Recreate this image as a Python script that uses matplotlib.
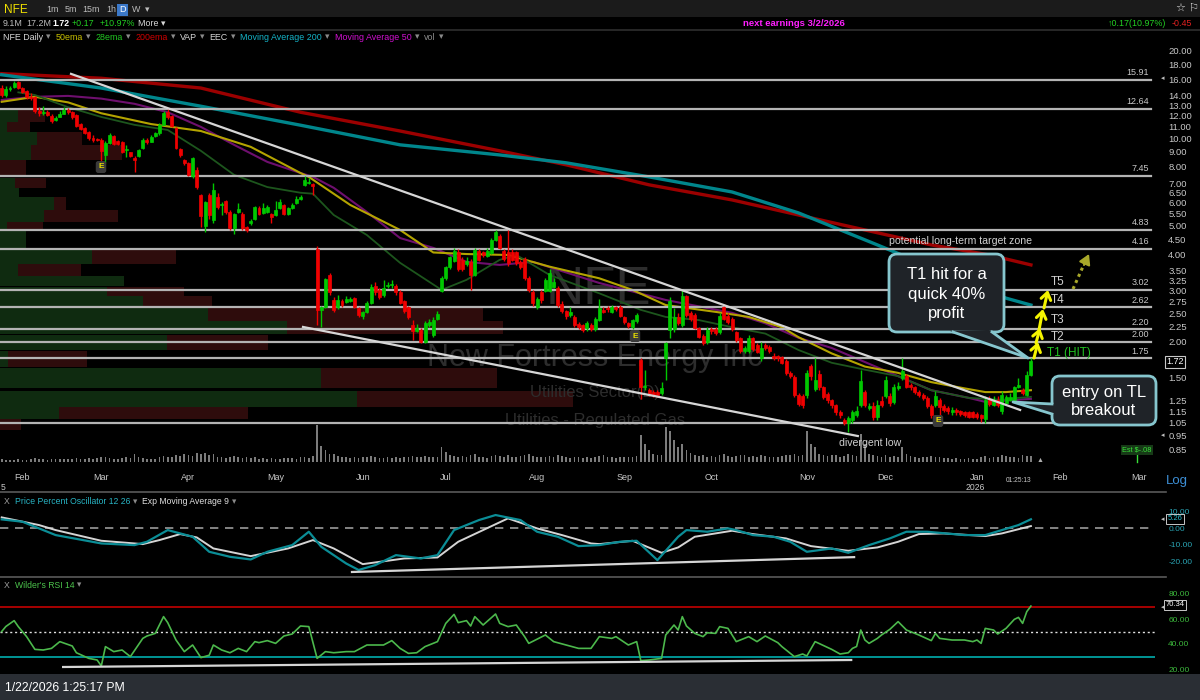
import numpy as np
import pandas as pd
import matplotlib
matplotlib.use("Agg")
import matplotlib.pyplot as plt
from matplotlib.patches import FancyBboxPatch, Polygon, Rectangle

plt.rcParams["font.family"] = ["Liberation Sans", "DejaVu Sans"]

# ---------------- daily candles (NFE) ----------------
opens = [14.90, 14.11, 14.80, 15.00, 15.65, 14.90, 14.55, 13.90, 13.85, 12.40,
         12.20, 12.30, 11.95, 11.55, 11.85, 12.15, 12.55, 12.30, 12.05, 11.20,
         10.85, 10.50, 10.05, 9.95, 9.85, 8.80, 9.65, 10.20, 9.80, 9.75,
         9.15, 8.95, 8.55, 8.70, 9.25, 9.90, 9.75, 10.15, 10.40, 11.15,
         12.30, 11.95, 10.85, 9.20, 8.45, 8.20, 7.40, 7.80, 6.40, 4.98,
         6.40, 5.25, 6.30, 5.88, 6.10, 5.60, 4.90, 5.60, 5.50, 4.95,
         5.13, 5.30, 5.75, 5.55, 5.60, 5.50, 5.45, 5.75, 5.90, 5.50,
         5.75, 6.00, 6.20, 6.90, 7.00, 6.95, 4.16, 2.57, 2.62, 3.39,
         2.78, 2.62, 2.76, 2.74, 2.76, 2.82, 2.60, 2.45, 2.53, 2.72,
         3.10, 3.01, 2.89, 3.10, 3.12, 3.10, 2.96, 2.75, 2.62, 2.28,
         2.18, 2.19, 2.00, 2.28, 2.10, 2.39, 2.98, 3.30, 3.60, 3.80,
         4.05, 3.82, 3.70, 3.75, 3.40, 4.10, 4.05, 3.95, 4.03, 4.47,
         4.60, 4.10, 4.07, 4.07, 4.05, 3.75, 3.85, 3.30, 2.95, 2.62,
         2.95, 2.98, 2.98, 3.08, 3.05, 2.70, 2.55, 2.47, 2.43, 2.30,
         2.28, 2.22, 2.28, 2.20, 2.37, 2.57, 2.60, 2.52, 2.62, 2.63,
         2.43, 2.31, 2.24, 2.35, 1.73, 1.39, 1.36, 1.34, 1.34, 1.33,
         1.75, 2.19, 2.20, 2.43, 2.28, 2.86, 2.50, 2.47, 2.22, 2.09,
         1.99, 2.20, 2.20, 2.15, 2.62, 2.45, 2.40, 2.15, 2.05, 1.85,
         1.85, 2.05, 1.95, 1.75, 1.95, 1.92, 1.79, 1.78, 1.77, 1.72,
         1.56, 1.51, 1.31, 1.30, 1.31, 1.65, 1.37, 1.55, 1.39, 1.32,
         1.26, 1.21, 1.14, 1.07, 1.05, 1.07, 1.12, 1.21, 1.34, 1.18,
         1.20, 1.10, 1.25, 1.30, 1.30, 1.24, 1.38, 1.50, 1.52, 1.42,
         1.39, 1.34, 1.31, 1.28, 1.20, 1.21, 1.26, 1.20, 1.18, 1.14,
         1.16, 1.15, 1.14, 1.14, 1.14, 1.13, 1.12, 1.08, 1.26, 1.21,
         1.26, 1.15, 1.23, 1.26, 1.26, 1.39, 1.36, 1.31, 1.54]
highs = [15.30, 15.10, 15.20, 15.70, 15.80, 15.00, 14.70, 14.30, 14.00, 12.85,
         12.90, 12.50, 12.10, 11.90, 12.40, 12.80, 12.70, 12.40, 12.15, 11.30,
         10.95, 10.60, 10.30, 10.05, 10.00, 9.80, 10.45, 10.30, 9.90, 9.80,
         9.50, 9.00, 8.70, 9.20, 10.00, 10.05, 10.30, 10.50, 11.30, 12.40,
         12.60, 12.00, 10.90, 9.25, 8.50, 8.30, 8.60, 8.00, 6.45, 6.10,
         6.50, 7.00, 6.50, 6.05, 6.15, 5.65, 5.55, 6.00, 5.60, 5.00,
         5.30, 5.85, 5.85, 6.00, 5.90, 5.55, 6.10, 6.20, 5.95, 5.80,
         6.00, 6.35, 6.40, 7.40, 7.30, 7.00, 4.25, 2.66, 3.30, 3.45,
         2.85, 2.90, 2.80, 2.87, 2.84, 2.85, 2.62, 2.55, 2.75, 3.15,
         3.20, 3.05, 3.25, 3.20, 3.25, 3.15, 3.00, 2.78, 2.65, 2.37,
         2.30, 2.22, 2.35, 2.40, 2.42, 2.55, 3.35, 3.65, 3.95, 4.20,
         4.15, 3.90, 3.90, 3.85, 4.20, 4.15, 4.10, 4.20, 4.55, 4.84,
         4.70, 4.15, 4.84, 4.15, 4.10, 3.82, 3.90, 3.35, 3.00, 2.85,
         3.00, 3.30, 3.55, 3.30, 3.10, 2.75, 2.57, 2.62, 2.47, 2.33,
         2.30, 2.35, 2.31, 2.42, 2.80, 2.62, 2.65, 2.68, 2.65, 2.67,
         2.45, 2.33, 2.40, 2.50, 1.75, 1.60, 1.38, 1.36, 1.36, 1.45,
         2.00, 2.85, 2.60, 2.50, 3.01, 2.90, 2.55, 2.50, 2.25, 2.12,
         2.25, 2.25, 2.25, 2.50, 2.65, 2.50, 2.42, 2.17, 2.07, 1.93,
         2.10, 2.08, 1.97, 2.00, 1.98, 1.95, 1.82, 1.80, 1.79, 1.74,
         1.58, 1.53, 1.33, 1.32, 1.60, 1.68, 1.75, 1.60, 1.41, 1.34,
         1.27, 1.22, 1.16, 1.09, 1.11, 1.16, 1.20, 1.60, 1.36, 1.23,
         1.24, 1.26, 1.30, 1.52, 1.33, 1.43, 1.45, 1.75, 1.55, 1.44,
         1.41, 1.36, 1.33, 1.30, 1.22, 1.35, 1.28, 1.22, 1.20, 1.19,
         1.18, 1.16, 1.15, 1.15, 1.15, 1.14, 1.13, 1.30, 1.30, 1.30,
         1.30, 1.35, 1.31, 1.33, 1.41, 1.50, 1.38, 1.58, 1.76]
lows = [13.90, 13.90, 14.60, 14.90, 14.80, 14.30, 13.70, 13.50, 12.20, 11.95,
        12.00, 11.90, 11.30, 11.45, 11.80, 12.10, 12.15, 11.70, 10.95, 10.70,
        10.35, 9.90, 9.75, 9.80, 8.35, 8.20, 9.60, 9.50, 9.50, 8.90,
        8.60, 8.60, 7.65, 8.60, 9.20, 9.60, 9.70, 10.10, 10.30, 11.10,
        11.70, 10.90, 9.20, 8.60, 8.10, 7.40, 7.30, 6.70, 4.95, 4.75,
        5.30, 5.10, 5.70, 5.45, 5.50, 4.85, 4.70, 5.55, 4.85, 4.75,
        5.05, 5.25, 5.45, 5.50, 5.55, 5.10, 5.40, 5.70, 5.45, 5.45,
        5.70, 5.95, 6.15, 6.85, 6.95, 6.40, 2.28, 2.25, 2.60, 2.90,
        2.52, 2.58, 2.63, 2.72, 2.73, 2.60, 2.42, 2.40, 2.50, 2.70,
        2.90, 2.80, 2.85, 3.05, 3.05, 2.90, 2.70, 2.50, 2.40, 2.03,
        2.15, 1.97, 1.97, 2.25, 2.08, 2.37, 2.95, 3.25, 3.55, 3.75,
        3.50, 3.50, 3.65, 3.02, 3.35, 3.78, 3.90, 3.90, 4.00, 4.42,
        4.15, 3.80, 3.65, 3.78, 3.68, 3.55, 3.25, 2.95, 2.65, 2.58,
        2.72, 2.95, 2.95, 3.05, 2.63, 2.50, 2.40, 2.43, 2.25, 2.20,
        2.15, 2.18, 2.17, 2.17, 2.35, 2.50, 2.53, 2.50, 2.55, 2.43,
        2.30, 2.23, 2.20, 2.32, 1.27, 1.36, 1.30, 1.29, 1.29, 1.31,
        1.48, 2.05, 2.15, 2.28, 2.25, 2.43, 2.35, 2.20, 2.05, 1.95,
        1.96, 2.13, 2.10, 2.12, 2.37, 2.30, 2.17, 2.00, 1.82, 1.82,
        1.83, 1.85, 1.82, 1.72, 1.87, 1.82, 1.73, 1.72, 1.67, 1.54,
        1.50, 1.29, 1.20, 1.18, 1.28, 1.48, 1.35, 1.36, 1.27, 1.23,
        1.18, 1.12, 1.09, 1.03, 0.98, 1.05, 1.10, 1.19, 1.19, 1.16,
        1.07, 1.07, 1.19, 1.28, 1.20, 1.22, 1.36, 1.47, 1.38, 1.36,
        1.32, 1.29, 1.26, 1.18, 1.09, 1.19, 1.10, 1.14, 1.13, 1.12,
        1.12, 1.11, 1.10, 1.09, 1.09, 1.08, 1.06, 1.05, 1.20, 1.20,
        1.19, 1.13, 1.21, 1.25, 1.25, 1.38, 1.31, 1.30, 1.52]
closes = [14.11, 14.80, 14.95, 15.50, 14.90, 14.45, 13.90, 13.80, 12.40, 12.20,
          12.35, 12.00, 11.50, 11.75, 12.15, 12.55, 12.30, 11.85, 11.05, 10.80,
          10.45, 10.00, 9.85, 9.88, 9.05, 9.65, 10.30, 9.60, 9.60, 8.98,
          9.22, 8.70, 8.45, 9.13, 9.90, 9.75, 10.10, 10.40, 11.15, 12.20,
          11.80, 11.00, 9.30, 8.80, 8.25, 7.50, 8.55, 6.80, 5.40, 6.05,
          5.45, 6.65, 5.80, 5.95, 5.60, 4.90, 5.50, 5.70, 4.90, 4.85,
          5.20, 5.80, 5.50, 5.75, 5.80, 5.35, 5.65, 6.05, 5.50, 5.75,
          5.90, 6.20, 6.30, 7.20, 7.05, 6.85, 2.57, 2.63, 3.28, 2.96,
          2.57, 2.78, 2.67, 2.80, 2.80, 2.62, 2.47, 2.52, 2.72, 3.08,
          2.95, 2.85, 3.05, 3.13, 3.16, 2.95, 2.72, 2.55, 2.43, 2.17,
          2.22, 2.00, 2.31, 2.33, 2.37, 2.49, 3.30, 3.60, 3.90, 4.10,
          3.55, 3.55, 3.80, 3.40, 4.13, 3.82, 3.97, 4.10, 4.47, 4.75,
          4.20, 3.85, 3.73, 3.82, 3.73, 3.62, 3.30, 3.01, 2.72, 2.80,
          2.78, 3.26, 3.45, 3.20, 2.67, 2.55, 2.45, 2.53, 2.28, 2.24,
          2.19, 2.31, 2.20, 2.39, 2.61, 2.52, 2.58, 2.63, 2.59, 2.45,
          2.33, 2.27, 2.37, 2.47, 1.39, 1.41, 1.32, 1.31, 1.31, 1.38,
          1.98, 2.75, 2.43, 2.31, 2.86, 2.47, 2.40, 2.22, 2.08, 1.98,
          2.19, 2.17, 2.14, 2.45, 2.40, 2.33, 2.20, 2.03, 1.85, 1.90,
          2.06, 1.88, 1.84, 1.90, 1.90, 1.85, 1.75, 1.75, 1.69, 1.56,
          1.52, 1.31, 1.22, 1.21, 1.56, 1.52, 1.48, 1.39, 1.29, 1.26,
          1.21, 1.14, 1.12, 1.05, 1.09, 1.14, 1.15, 1.46, 1.21, 1.20,
          1.10, 1.21, 1.21, 1.48, 1.23, 1.40, 1.41, 1.58, 1.40, 1.39,
          1.34, 1.31, 1.28, 1.20, 1.12, 1.30, 1.19, 1.16, 1.15, 1.16,
          1.14, 1.13, 1.12, 1.10, 1.10, 1.10, 1.09, 1.26, 1.22, 1.26,
          1.21, 1.31, 1.29, 1.29, 1.39, 1.42, 1.33, 1.54, 1.72]
# volume, millions of shares
volumes = [4, 3.5, 3, 3.5, 4, 3, 3.5, 4, 6, 5,
           4, 3.5, 4, 5, 4, 4.5, 4, 4, 6, 5,
           5, 6, 5, 6.5, 8, 7, 6, 5, 5, 6,
           8, 6, 12, 7, 6, 5, 5, 5, 7, 9,
           8, 7, 10, 9, 12, 10, 9, 14, 12, 13,
           11, 12, 8, 7, 6, 8, 9, 7, 6, 7,
           6, 7, 5, 6, 5, 6, 5, 5, 6, 6,
           6, 5, 7, 8, 6, 9, 55, 24, 18, 12,
           12, 9, 8, 7, 6, 7, 6, 7, 8, 9,
           7, 6, 6, 8, 6, 7, 6, 7, 8, 9,
           7, 8, 9, 8, 7, 7, 22, 15, 10, 9,
           8, 9, 7, 10, 12, 8, 7, 6, 9, 11,
           9, 8, 10, 7, 8, 9, 10, 12, 9, 8,
           8, 7, 9, 8, 10, 9, 8, 6, 7, 8,
           6, 7, 6, 7, 9, 10, 8, 7, 6, 7,
           8, 7, 8, 9, 40, 27, 18, 12, 10, 11,
           52, 47, 33, 22, 27, 18, 13, 10, 9, 10,
           8, 9, 8, 10, 12, 9, 8, 9, 11, 10,
           8, 9, 8, 10, 9, 8, 7, 8, 9, 11,
           10, 12, 9, 10, 46, 27, 22, 12, 10, 9,
           11, 10, 8, 9, 12, 10, 9, 42, 27, 12,
           10, 9, 8, 11, 8, 9, 7, 22, 12, 9,
           7, 6, 7, 8, 9, 7, 8, 6, 6, 5,
           6, 5, 5, 6, 5, 5, 7, 9, 6, 7,
           8, 10, 9, 8, 7, 6, 10, 9, 9]

# NYSE holidays inside the window (trading-day axis)
holidays = ["2025-02-17", "2025-04-18", "2025-05-26", "2025-06-19", "2025-07-04",
            "2025-09-01", "2025-11-27", "2025-12-25", "2026-01-01", "2026-01-19",
            "2026-02-16"]

# moving averages sampled along the chart (bar index, value)
ema200_x = [0, 24, 48, 72, 96, 120, 136, 156, 176, 192, 224, 238, 248]
ema200_y = [16.7, 16.1, 14.9, 12.3, 10.6, 9.06, 8.11, 6.92, 6.14, 5.45, 4.30, 3.97, 3.67]
ma200_x = [0, 24, 48, 72, 96, 120, 136, 156, 176, 192, 211, 242, 248]
ma200_y = [16.55, 14.9, 12.9, 11.1, 9.5, 8.77, 8.24, 7.37, 6.54, 5.54, 4.30, 2.82, 2.67]
ema50_x = [0, 8, 16, 24, 36, 48, 60, 72, 74, 84, 96, 104, 112, 122, 132, 144, 152,
           160, 172, 180, 188, 192, 200, 208, 216, 224, 232, 237, 242, 248]
ema50_y = [13.36, 13.9, 13.3, 12.2, 11.2, 10.6, 9.35, 7.6, 7.37, 5.9, 4.84, 4.05, 4.0,
           3.97, 3.62, 3.3, 3.01, 2.67, 2.53, 2.43, 2.24, 2.07, 1.82, 1.64, 1.56, 1.45,
           1.38, 1.34, 1.34, 1.36]
ema28_x = [4, 8, 16, 24, 32, 40, 48, 56, 64, 72, 75, 80, 88, 96, 106, 112, 120, 124,
           132, 144, 154, 160, 168, 176, 184, 192, 200, 208, 216, 224, 233, 241, 245, 248]
ema28_y = [14.4, 14.1, 12.8, 11.85, 11.13, 10.69, 9.06, 7.49, 6.8, 6.5, 6.45, 5.45, 4.65,
           3.73, 3.01, 3.26, 3.82, 3.97, 3.39, 2.93, 2.57, 2.43, 2.37, 2.24, 2.13, 1.87,
           1.69, 1.6, 1.52, 1.36, 1.28, 1.26, 1.28, 1.29]
ma50_x = [0, 8, 16, 24, 32, 40, 48, 56, 64, 72, 75, 80, 88, 96, 104, 112, 120, 128, 144,
          160, 176, 184, 192, 200, 208, 216, 224, 233, 237, 248]
ma50_y = [13.56, 13.9, 14.0, 13.7, 13.15, 12.3, 10.95, 9.5, 8.3, 7.6, 7.37, 6.76, 5.58,
          4.54, 4.2, 3.76, 3.67, 3.76, 3.18, 2.78, 2.51, 2.31, 2.06, 1.9, 1.7, 1.52, 1.36,
          1.28, 1.24, 1.27]

# horizontal price levels / targets
levels = [15.91, 12.64, 7.45, 4.83, 4.16, 3.02, 2.62, 2.20, 2.00, 1.75]
support_level = 1.05

# volume at price rows: price band, up volume, down volume (relative)
vap_lo = [11.4, 10.5, 9.5, 8.43, 7.43, 6.76, 6.27, 5.67, 5.16, 4.84, 4.2, 3.7, 3.36,
          3.1, 2.86, 2.63, 2.35, 2.12, 1.87, 1.63, 1.38, 1.19, 1.08, 0.99]
vap_hi = [12.53, 11.35, 10.5, 9.5, 8.43, 7.3, 6.76, 6.27, 5.67, 5.16, 4.84, 4.17, 3.7,
          3.36, 3.07, 2.86, 2.6, 2.35, 2.1, 1.86, 1.62, 1.35, 1.19, 1.08]
vap_up = [18, 7, 37, 31, 0, 15, 19, 54, 44, 7, 26, 92, 18, 124, 107, 143, 208, 287,
          167, 8, 321, 357, 59, 0]
vap_down = [27, 23, 45, 91, 26, 31, 0, 12, 74, 36, 0, 84, 63, 0, 77, 69, 275, 216, 101,
            79, 176, 216, 189, 21]

# hand-drawn trend lines (bar index, value)
upper_tl_x, upper_tl_y = [16.7, 245.4], [16.67, 1.163]
lower_tl_x, lower_tl_y = [72.6, 206.3], [2.245, 0.946]
ppo_tl_x, ppo_tl_y = [84.4, 205.4], [-26.3, -17.4]
rsi_tl_x, rsi_tl_y = [14.8, 204.7], [21.6, 27.2]

# PPO 12 26 and its 9 EMA signal
ppo_x = [0, 5, 13, 24, 32, 35, 40, 46, 50, 55, 60, 64, 70, 74, 77, 83, 86, 90, 95, 101,
         105, 109, 115, 119, 125, 129, 134, 139, 144, 149, 153, 158, 163, 165, 170, 175,
         177, 181, 186, 190, 194, 200, 204, 209, 214, 218, 223, 232, 237, 241, 245, 248]
ppo_y = [5.2, 3.8, -4.2, -9.2, -10.2, -8.2, -1.2, -5.2, -14.2, -17.2, -18.8, -14.2, -10.2,
         -2.2, -11.2, -21.2, -25.1, -22.2, -16.2, -18.2, -16.2, -1.2, 4.8, 7.8, 4.8, -2.2,
         -5.2, -10.8, -10.2, -8.2, -7.6, -19.2, -5.2, -1.2, -2.2, -0.2, -1.2, -4.2, -5.2,
         -8.2, -14.2, -12.2, -14.8, -10.2, -6.2, -2.2, -2.2, -4.2, -4.2, -1.2, 1.8, 5.26]
sig_x = [0, 9, 13, 24, 34, 38, 43, 47, 51, 60, 69, 75, 80, 87, 97, 105, 110, 116, 122,
         129, 135, 142, 144, 152, 159, 163, 167, 172, 176, 181, 189, 195, 204, 211, 216,
         221, 227, 237, 241, 248]
sig_y = [6.4, 1.8, -1.2, -7.6, -9.6, -7.2, -3.6, -5.6, -12.2, -16.8, -12.2, -7.2, -12.2,
         -21.6, -18.2, -17.6, -8.2, -1.2, 5.8, -0.2, -4.2, -9.2, -9.6, -7.6, -14.8, -11.6,
         -5.2, -3.2, -1.6, -3.6, -6.2, -10.8, -13.6, -11.6, -8.2, -3.6, -3.2, -4.8, -3.2, 1.2]

# Wilder's RSI 14
rsi_x = [0, 1, 3, 4, 6, 8, 10, 12, 14, 17, 18, 21, 23, 24, 25, 27, 29, 30, 31, 34,
         35, 37, 39, 40, 42, 44, 46, 48, 50, 51, 53, 55, 57, 59, 61, 62, 64, 66, 68, 70,
         72, 74, 76, 78, 80, 83, 85, 88, 92, 94, 96, 98, 100, 102, 105, 107, 109, 110, 112, 113,
         114, 116, 119, 120, 122, 124, 126, 127, 131, 133, 136, 139, 142, 144, 147, 148, 151, 153, 154, 156,
         159, 160, 162, 163, 164, 165, 167, 169, 170, 172, 173, 175, 177, 180, 182, 184, 187, 188, 191, 193,
         194, 196, 200, 202, 204, 205, 206, 207, 208, 209, 211, 212, 214, 216, 218, 221, 224, 225, 226, 229,
         232, 234, 235, 236, 237, 239, 240, 242, 244, 245, 246, 247, 248]
rsi_y = [50, 54, 58.7, 53.9, 45.9, 35.7, 35.2, 36.5, 41.9, 38.4, 33, 28.5, 27.2, 22.4, 37.9, 33.9, 35.2, 32.5, 29.9, 44.5,
         46.4, 48.5, 61.9, 57.1, 43.2, 33.9, 39.2, 29.1, 31, 39.2, 35.2, 33, 36.5, 33.9, 41.9, 41.1, 42.7, 40.5, 46.4, 48,
         54.4, 53.9, 28.5, 33.9, 33, 33.9, 33.9, 39.2, 39.2, 42.7, 36.5, 32.5, 33, 37.9, 41.9, 56.5, 63.7, 57.1, 58.7, 54.4,
         61.9, 55.2, 64, 56.5, 53.9, 55.2, 45.9, 40.5, 47.2, 41.9, 39.2, 36.5, 36.5, 45.9, 44.5, 45.9, 39.2, 41.9, 26.7, 27.2,
         28.5, 47.2, 55.2, 51.2, 61.9, 54.4, 48.5, 45.9, 49, 48.5, 53.9, 52.5, 41.9, 45.9, 41.9, 46.4, 41.1, 37.9, 29.9, 32,
         30.4, 41.9, 35.7, 32, 33, 36.5, 38, 51.2, 43.2, 40.5, 44.5, 47.2, 51.7, 57.9, 51.2, 47.2, 42.7, 48.5, 44.5, 43.2,
         43.2, 41.9, 43.2, 40.5, 52.5, 51.2, 48, 52.5, 59.7, 61.3, 56.5, 65.9, 70.34]

price_ticks = [20, 18, 16, 14, 13, 12, 11, 10, 9, 8, 7, 6.5, 6, 5.5, 5, 4.5, 4, 3.5, 3.25,
               3, 2.75, 2.5, 2.25, 2, 1.5, 1.25, 1.15, 1.05, 0.95, 0.85]
ppo_ticks = [10, 0, -10, -20]
rsi_ticks = [80, 60, 40, 20]

# ---------------- layout ----------------
W, H = 1200, 700
fig = plt.figure(figsize=(12, 7), dpi=100, facecolor="black")
renderer = fig.canvas.get_renderer()


def rect(x0, y0, x1, y1):
    return [x0 / W, 1 - y1 / H, (x1 - x0) / W, (y1 - y0) / H]


ax = fig.add_axes(rect(0, 40, 1155, 465))
ax_vol = ax.twinx()
ax_ppo = fig.add_axes(rect(0, 493, 1155, 577), sharex=ax)
ax_rsi = fig.add_axes(rect(0, 577, 1155, 674), sharex=ax)
ov = fig.add_axes([0, 0, 1, 1])
ov.set_xlim(0, W)
ov.set_ylim(H, 0)
ov.axis("off")
ov.set_zorder(10)
ov.patch.set_visible(False)

for a in (ax, ax_vol, ax_ppo, ax_rsi):
    a.set_facecolor("none")
    for s in a.spines.values():
        s.set_visible(False)
ax.set_zorder(3)
ax_vol.set_zorder(2)

days = pd.bdate_range("2025-01-27", "2026-03-31", freq="C", holidays=holidays)
firsts = pd.Series(np.arange(len(days)), index=days).groupby([days.year, days.month]).first()
firsts = firsts[firsts > 0]
month_labels = [days[i].strftime("%b") for i in firsts.values]

n = len(closes)
bx = np.arange(n)
o, h, l, c = map(np.array, (opens, highs, lows, closes))
colors = np.where(c >= o, "#00c800", "#f00000")

ax.set_xlim(-0.41, 277.9)
ax.set_yscale("log")
ax.set_ylim(0.752, 21.8)

# volume at price
vlo, vhi = np.array(vap_lo), np.array(vap_hi)
to_bars = 1 / 4.15
ax.barh(vlo, np.array(vap_up) * to_bars, height=vhi - vlo, left=-0.41, align="edge",
        color="#0f2b10", zorder=0.6)
ax.barh(vlo, np.array(vap_down) * to_bars, height=vhi - vlo,
        left=-0.41 + np.array(vap_up) * to_bars, align="edge", color="#2e0c0c", zorder=0.6)


# watermark
def axfrac(x, y):
    return x / 1155, (465 - y) / 425


wm = "#2d2d2d"
ax.text(*axfrac(598, 290), "NFE", transform=ax.transAxes, ha="center", va="center",
        fontsize=38, color=wm, zorder=0.7)
ax.text(*axfrac(595, 358), "New Fortress Energy Inc", transform=ax.transAxes, ha="center",
        va="center", fontsize=22, color=wm, zorder=0.7)
ax.text(*axfrac(595, 393), "Utilities Sector(D)", transform=ax.transAxes, ha="center",
        va="center", fontsize=12, color=wm, zorder=0.7)
ax.text(*axfrac(595, 420), "Utilities - Regulated Gas", transform=ax.transAxes, ha="center",
        va="center", fontsize=12, color=wm, zorder=0.7)

# moving averages
ax.plot(ema200_x, ema200_y, color="#9c0000", lw=2.4, zorder=2)
ax.plot(ma200_x, ma200_y, color="#00868c", lw=2.4, zorder=2)
ax.plot(ma50_x, ma50_y, color="#6e0f6e", lw=1.5, zorder=2)
ax.plot(ema50_x, ema50_y, color="#b4a400", lw=1.5, zorder=2)
ax.plot(ema28_x, ema28_y, color="#1d561d", lw=1.3, zorder=2)

# price levels
trans = ax.get_yaxis_transform()
for lv in levels:
    ax.axhline(lv, xmin=0, xmax=1151 / 1155, color="#b4b4b4", lw=1.6, zorder=2.5)
    ax.annotate(f"{lv:.2f}", xy=(1149 / 1155, lv), xycoords=trans, xytext=(0, 2),
                textcoords="offset points", ha="right", va="bottom", fontsize=6.5,
                color="#c8c8c8")
ax.axhline(support_level, xmin=0, xmax=1151 / 1155, color="#b4b4b4", lw=1.6, zorder=2.5)

# candles
ax.vlines(bx, l, h, colors=colors, lw=1, zorder=3)
ax.bar(bx, np.abs(c - o), bottom=np.minimum(o, c), width=0.72, color=colors,
       edgecolor=colors, lw=0.5, zorder=4)

# trend lines
ax.plot(upper_tl_x, upper_tl_y, color="#d6d6d6", lw=1.6, zorder=5)
ax.plot(lower_tl_x, lower_tl_y, color="#d6d6d6", lw=1.6, zorder=5)

# volume
ax_vol.bar(bx, volumes, width=0.4, color="#7c7c7c")
ax_vol.set_ylim(-4.5, 633)
ax_vol.set_yticks([])

ax.yaxis.tick_right()
ax.set_yticks(price_ticks)
ax.set_yticklabels([f"{t:.2f}" for t in price_ticks])
ax.set_yticks([], minor=True)
ax.tick_params(axis="y", which="both", length=0, labelsize=6.8, labelcolor="#c8c8c8", pad=9.5)
ax.set_xticks(firsts.values)
ax.set_xticklabels(month_labels)
ax.tick_params(axis="x", length=0, labelsize=6.5, labelcolor="#c8c8c8", pad=6)

# PPO panel
ax_ppo.axhline(0, color="#9a9a9a", lw=1.2, ls=(0, (5, 4)))
ax_ppo.plot(sig_x, sig_y, color="#d4d4d4", lw=1.4)
ax_ppo.plot(ppo_x, ppo_y, color="#0b8d96", lw=1.6)
ax_ppo.plot(ppo_tl_x, ppo_tl_y, color="#d6d6d6", lw=1.6)
ax_ppo.set_ylim(-29.3, 21)
ax_ppo.yaxis.tick_right()
ax_ppo.set_yticks(ppo_ticks)
ax_ppo.set_yticklabels([f"{t:.2f}" for t in ppo_ticks])
ax_ppo.tick_params(axis="y", length=0, labelsize=6, labelcolor="#2aa5b5", pad=9.5)
ax_ppo.tick_params(axis="x", length=0, labelbottom=False)

# RSI panel
ax_rsi.axhline(70, color="#b40000", lw=1.3)
ax_rsi.axhline(30, color="#00a0a0", lw=1.3)
ax_rsi.axhline(50, color="#e0e0e0", lw=1.0, ls=(0, (1.5, 2)))
ax_rsi.plot(rsi_x, rsi_y, color="#4cb84c", lw=1.2)
ax_rsi.plot(rsi_tl_x, rsi_tl_y, color="#d6d6d6", lw=1.6)
ax_rsi.set_ylim(16, 93.6)
ax_rsi.yaxis.tick_right()
ax_rsi.set_yticks(rsi_ticks)
ax_rsi.set_yticklabels([f"{t:.2f}" for t in rsi_ticks])
ax_rsi.tick_params(axis="y", length=0, labelsize=6, labelcolor="#3cb83c", pad=9.5)
ax_rsi.tick_params(axis="x", length=0, labelbottom=False)

# ---------------- overlay: header, annotations, status bar ----------------
ov.add_patch(Rectangle((0, 0), W, 17, fc="#1b1b1b", ec="none"))
ov.plot([0, W], [29.5, 29.5], color="#2e2e2e", lw=1.2)
ov.plot([0, 1166], [492, 492], color="#5a5a5a", lw=1.2)
ov.plot([0, 1166], [577, 577], color="#5a5a5a", lw=1.2)
ov.add_patch(Rectangle((0, 674), W, 26, fc="#2a2e34", ec="none"))

GRAY = "#8a8a8a"


def text_row(items, x, y, size=6.4):
    """Draw (text, colour, gap-after) pieces one after another on a line."""
    for txt, col, gap in items:
        t = ov.text(x, y, txt, color=col, fontsize=size, va="center", ha="left")
        x += t.get_window_extent(renderer=renderer).width + gap


ov.text(4, 10, "NFE", color="#f0e000", fontsize=8.5, va="center")
text_row([("1m", "#bdbdbd", 6), ("5m", "#bdbdbd", 6), ("15m", "#bdbdbd", 6),
          ("1h", "#bdbdbd", 0)], 46, 10)
ov.add_patch(Rectangle((117, 3.5), 11, 12, fc="#3b78c8", ec="none"))
ov.text(122.5, 10, "D", color="white", ha="center", va="center", fontsize=6.6)
text_row([("W", "#bdbdbd", 5), ("▾", "#bdbdbd", 0)], 132, 10)
ov.text(1180, 8, "☆", color="#e0e0e0", fontsize=8, ha="center", va="center")
ov.text(1193, 8, "⚐", color="#e0e0e0", fontsize=8, ha="center", va="center")

text_row([("9.1M", "#bdbdbd", 3), ("17.2M", "#bdbdbd", 4)], 3, 23)
ov.text(52, 23, "1.72", color="white", fontweight="bold", fontsize=6.4, va="center")
text_row([("+0.17", "#22d022", 5), ("+10.97%", "#22d022", 3), ("More ▾", "#d8d8d8", 0)], 72, 23)
ov.text(743, 23, "next earnings 3/2/2026", color="#ff20ff", fontweight="bold",
        fontsize=6.8, va="center")
ov.text(1108, 23, "↑0.17(10.97%)", color="#22d022", fontsize=6.4, va="center")
ov.text(1172, 23, "-0.45", color="#e02020", fontsize=6.4, va="center")

text_row([("NFE Daily", "#d8d8d8", 3), ("▾", GRAY, 5),
          ("50ema", "#c8c000", 3), ("▾", GRAY, 5),
          ("28ema", "#22c822", 3), ("▾", GRAY, 5),
          ("200ema", "#d00000", 3), ("▾", GRAY, 5),
          ("VAP", "#d8d8d8", 3), ("▾", GRAY, 5),
          ("EEC", "#d8d8d8", 3), ("▾", GRAY, 5),
          ("Moving Average 200", "#14b4c8", 3), ("▾", GRAY, 5),
          ("Moving Average 50", "#d010d0", 3), ("▾", GRAY, 5),
          ("vol", GRAY, 3), ("▾", GRAY, 0)], 3, 37)

# panel titles
text_row([("X", "#a0a0a0", 5), ("Price Percent Oscillator 12 26", "#28b4c4", 3),
          ("▾", GRAY, 5), ("Exp Moving Average 9", "#e0e0e0", 3), ("▾", GRAY, 0)], 4, 502, 6.2)
text_row([("X", "#a0a0a0", 5), ("Wilder's RSI 14", "#4cc44c", 3), ("▾", GRAY, 0)], 4, 585, 6.2)

# axis extras
ov.text(975, 487, "2026", color="#c8c8c8", fontsize=6.2, ha="center", va="center")
ov.text(1, 487, "5", color="#c8c8c8", fontsize=6.2, ha="left", va="center")
ov.text(1019, 481, "01:25:13", color="#c8c8c8", fontsize=4.8, ha="center", va="center")
ov.text(1166, 481, "Log", color="#3d8fd6", fontsize=9.5, ha="left", va="center")
ov.text(1040, 461, "▲", color="#b0b0b0", fontsize=5, ha="center", va="center")
ov.text(1137, 450, "Est $-.08", color="#38e038", fontsize=5.3, ha="center", va="center",
        bbox=dict(fc="#173a17", ec="none", pad=1.2))
ov.plot([1137, 1137], [455, 462], color="#38e038", lw=1)
for yy in (79, 436):
    ov.text(1163, yy, "◂", color="#c0c0c0", fontsize=5, ha="center", va="center")
ov.text(1175, 362, "1.72", color="white", fontsize=6.5, ha="center", va="center",
        bbox=dict(fc="black", ec="#c8c8c8", lw=0.8, pad=1.2))
ov.text(1175, 519, "5.26", color="#2ac0d0", fontsize=5.5, ha="center", va="center",
        bbox=dict(fc="black", ec="#c8c8c8", lw=0.7, pad=1))
ov.text(1175, 605, "70.34", color="white", fontsize=5.5, ha="center", va="center",
        bbox=dict(fc="black", ec="#c8c8c8", lw=0.7, pad=1))
ov.text(1163, 520, "◂", color="#c0c0c0", fontsize=5, ha="center", va="center")
ov.text(1163, 608, "◂", color="#c0c0c0", fontsize=5, ha="center", va="center")

# earnings markers
for ex, ey in ((101, 167), (635, 336), (938, 421)):
    ov.text(ex, ey, "E", color="#e8e000", fontsize=6, fontweight="bold", ha="center",
            va="center", bbox=dict(boxstyle="round,pad=0.3", fc="#3a3a3a", ec="none"))

# chart notes
ov.text(889, 241, "potential long-term target zone", color="#d0d0d0", fontsize=7.6, va="center")
ov.text(839, 443, "divergent low", color="#d0d0d0", fontsize=7.6, va="center")
ov.text(1047, 353, "T1 (HIT)", color="#22c422", fontsize=8.5, va="center")
for txt, yy in (("T2", 337), ("T3", 320), ("T4", 300), ("T5", 282)):
    ov.text(1051, yy, txt, color="#d0d0d0", fontsize=8.5, va="center")
for (x0, y0), (x1, y1) in (((1034, 358), (1038, 342)), ((1036, 343), (1040, 328)),
                           ((1039, 330), (1043, 309)), ((1044, 308), (1048, 290))):
    ov.annotate("", xy=(x1, y1), xytext=(x0, y0),
                arrowprops=dict(arrowstyle="->,head_length=0.5,head_width=0.35",
                                color="#f4f400", lw=2.2, shrinkA=0, shrinkB=0))
ov.plot([1073, 1085], [289, 262], color="#a8a82a", lw=2.2, ls=(0, (1, 1.2)))
ov.annotate("", xy=(1089, 254), xytext=(1084, 265),
            arrowprops=dict(arrowstyle="-|>,head_length=0.6,head_width=0.35",
                            color="#a8a82a", lw=1.5, shrinkA=0, shrinkB=0))


def callout(x0, y0, x1, y1, b1, b2, tip, text, ls):
    face, edge = "#1f2328", "#86c6ce"
    ov.add_patch(FancyBboxPatch((x0, y0), x1 - x0, y1 - y0,
                                boxstyle="round,pad=0,rounding_size=8",
                                fc=face, ec=edge, lw=2, zorder=5))
    pts = []
    for b in (b1, b2):
        d = np.array(b, float) - np.array(tip, float)
        pts.append(np.array(b) + d / np.hypot(*d) * 3.5)
    ov.add_patch(Polygon([pts[0], pts[1], tip], closed=True, fc=face, ec="none", zorder=6))
    ov.plot([b1[0], tip[0], b2[0]], [b1[1], tip[1], b2[1]], color=edge, lw=2, zorder=7)
    ov.text((x0 + x1) / 2, (y0 + y1) / 2 + 1, text, ha="center", va="center",
            color="white", fontsize=12, linespacing=ls, zorder=8)


callout(889, 254, 1004, 332, (953, 332), (992, 332), (1028, 358),
        "T1 hit for a\nquick 40%\nprofit", 1.4)
callout(1052, 376, 1156, 425, (1052, 404), (1052, 414), (1013, 402),
        "entry on TL\nbreakout", 1.3)

ov.text(5, 688, "1/22/2026 1:25:17 PM", color="white", fontsize=8.8, va="center")

fig.savefig("out.png", dpi=100, facecolor="black")
